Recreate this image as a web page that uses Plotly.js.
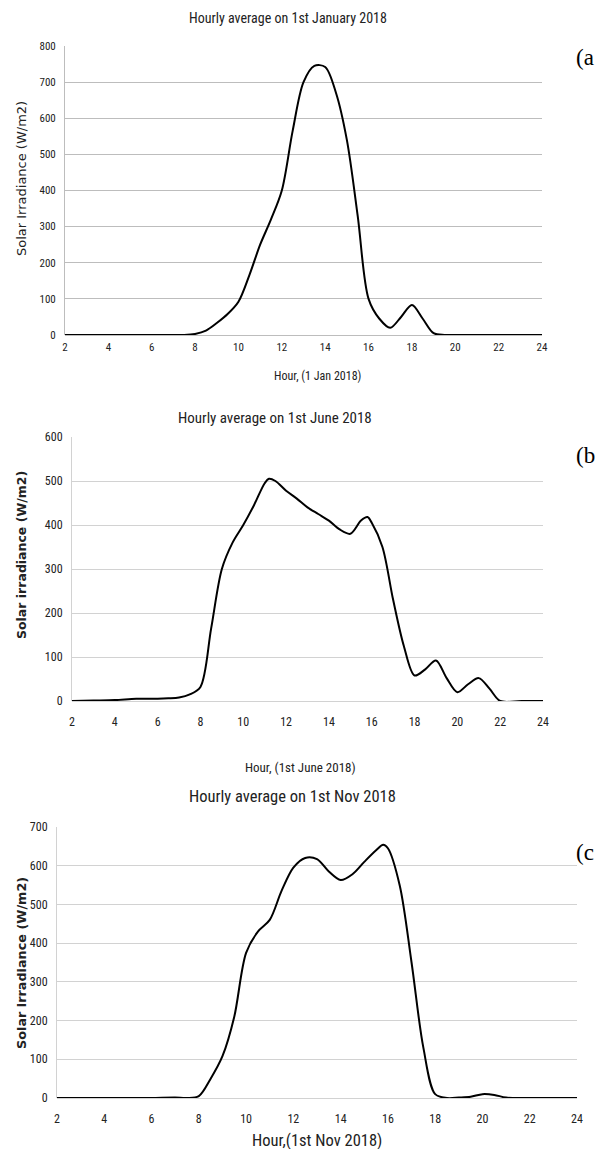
<!DOCTYPE html>
<html>
<head>
<meta charset="utf-8">
<script src="https://cdn.plot.ly/plotly-3.0.1.min.js"></script>
<style>
html,body{margin:0;padding:0;background:#fff;}
#chart{width:601px;height:1149px;}
</style>
</head>
<body>
<div id="chart"></div>
<script>
// ---- data ----
const hoursA = [2,3,4,5,6,7,7.5,8,8.5,9,9.5,10,10.5,11,11.5,12,12.5,13,13.5,14,14.5,15,15.5,16,16.5,17,17.5,18,18.5,19,19.5,20,21,22,23,24];
const janIrr = [0,0,0,0,0,0,0,3,12,33,58,92,165,250,320,400,565,700,745,742,670,540,330,100,45,20,50,83,45,5,0,0,0,0,0,0];

const hoursB = [2,3,4,5,6,6.5,7,7.5,8,8.5,9,9.5,10,10.5,11,11.2,11.5,12,12.5,13,13.5,14,14.5,15,15.5,15.8,16,16.5,17,17.5,18,18.5,19,19.5,20,20.5,21,21.5,22,23,24];
const junIrr = [0,1,2,5,5,6,8,15,32,165,300,360,400,445,495,505,500,478,460,440,425,410,390,380,410,418,405,350,230,125,58,72,92,52,20,38,52,28,0,0,0];

const hoursC = [2,3,4,5,6,7,7.5,8,8.5,9,9.5,10,10.5,11,11.5,12,12.5,13,13.5,14,14.5,15,15.5,15.8,16,16.5,17,17.5,18,18.5,19,19.5,20,20.5,21,22,23,24];
const novIrr = [0,0,0,0,0,1,0,5,50,108,210,375,430,460,535,595,620,617,585,563,578,610,640,654,645,549,350,130,10,0,1,3,10,8,1,0,0,0];

const xTicks = [2,4,6,8,10,12,14,16,18,20,22,24];
const titles = ["Hourly average on 1st January 2018","Hourly average on 1st June 2018","Hourly average on 1st Nov 2018"];
const yTitles = ["Solar Irradiance (W/m2)","Solar irradiance (W/m2)","Solar irradiance (W/m2)"];
const xTitles = ["Hour, (1 Jan 2018)","Hour, (1st June 2018)","Hour,(1st Nov 2018)"];
const panelTags = ["(a","(b","(c"];
const yMax = [800,600,700];

// ---- layout geometry (pixels) ----
const W = 601, H = 1149;
const px = v => v / W;
const py = v => 1 - v / H;
const boxes = [
  {l:65, r:542, t:46, b:335},
  {l:72, r:543, t:437, b:701},
  {l:57, r:577, t:827, b:1098}
];
const narrow = "Liberation Sans Narrow, Arial Narrow, Roboto Condensed, Liberation Sans, sans-serif";
const wide = "DejaVu Sans, Verdana, sans-serif";
const gridCols = ["#bdbdbd","#d2d2d2","#d2d2d2"];
const xStand = [4, 12, 12];

const series = [[hoursA,janIrr],[hoursB,junIrr],[hoursC,novIrr]];
const data = series.map((s,i)=>({
  x: s[0], y: s[1], type:'scatter', mode:'lines',
  line:{color:'#000', width:2, shape:'spline', smoothing:0.9},
  xaxis: i===0?'x':'x'+(i+1), yaxis: i===0?'y':'y'+(i+1),
  hoverinfo:'skip', showlegend:false
}));

const layout = {
  width:W, height:H, margin:{l:0,r:0,t:0,b:0},
  paper_bgcolor:'#fff', plot_bgcolor:'#fff', showlegend:false,
  annotations:[]
};

const tickSize = [11, 12, 12];
boxes.forEach((b,i)=>{
  const k = i===0?'':(i+1);
  layout['xaxis'+k] = {
    domain:[px(b.l), px(b.r)], anchor: i===0?'y':'y'+(i+1),
    range:[2,24], tickvals:xTicks, ticktext:xTicks.map(String),
    showgrid:false, zeroline:false, showline:false, ticks:'',
    ticklabelstandoff:xStand[i],
    tickfont:{family:narrow, size:tickSize[i], color:'#222'}, fixedrange:true
  };
  const yt = [];
  for (let v=0; v<=yMax[i]; v+=100) yt.push(v);
  layout['yaxis'+k] = {
    domain:[py(b.b), py(b.t)], anchor: i===0?'x':'x'+(i+1),
    range:[0,yMax[i]], tickvals:yt, ticktext:yt.map(String),
    showgrid:true, gridcolor:gridCols[i], gridwidth:1,
    zeroline:true, zerolinecolor:gridCols[i], zerolinewidth:1,
    showline:true, linecolor:gridCols[i], linewidth:1, ticks:'',
    ticklabelstandoff:6,
    tickfont:{family:narrow, size:tickSize[i], color:'#222'}, fixedrange:true
  };
});

const titleY = [18, 418, 797];
const titleX = [288, 275, 292];
const titleSize = [14, 15, 16.5];
const yTitleX = [21, 21, 21];
const yTitleY = [179, 555, 963];
const yTitleSize = [13, 12.5, 12.8];
const xTitleY = [376, 767, 1140];
const xTitleX = [317, 300, 317];
const xTitleSize = [12, 13, 16.5];
const tagY = [57, 455, 852];

for (let i=0;i<3;i++){
  layout.annotations.push({text:titles[i], xref:'paper', yref:'paper', x:px(titleX[i]), y:py(titleY[i]),
    xanchor:'center', yanchor:'middle', showarrow:false, font:{family:narrow, size:titleSize[i], color:'#222'}});
  layout.annotations.push({text:yTitles[i], xref:'paper', yref:'paper', x:px(yTitleX[i]), y:py(yTitleY[i]),
    xanchor:'center', yanchor:'middle', textangle:-90, showarrow:false, font:{family:wide, size:yTitleSize[i], color:'#222', weight: i===0?'normal':'bold'}});
  layout.annotations.push({text:xTitles[i], xref:'paper', yref:'paper', x:px(xTitleX[i]), y:py(xTitleY[i]),
    xanchor:'center', yanchor:'middle', showarrow:false, font:{family:narrow, size:xTitleSize[i], color:'#222'}});
  layout.annotations.push({text:panelTags[i], xref:'paper', yref:'paper', x:px(574), y:py(tagY[i]),
    xanchor:'left', yanchor:'middle', showarrow:false, font:{family:'Liberation Serif, Times New Roman, serif', size:23, color:'#000'}});
}

Plotly.newPlot('chart', data, layout, {staticPlot:true, displayModeBar:false});
</script>
</body>
</html>
